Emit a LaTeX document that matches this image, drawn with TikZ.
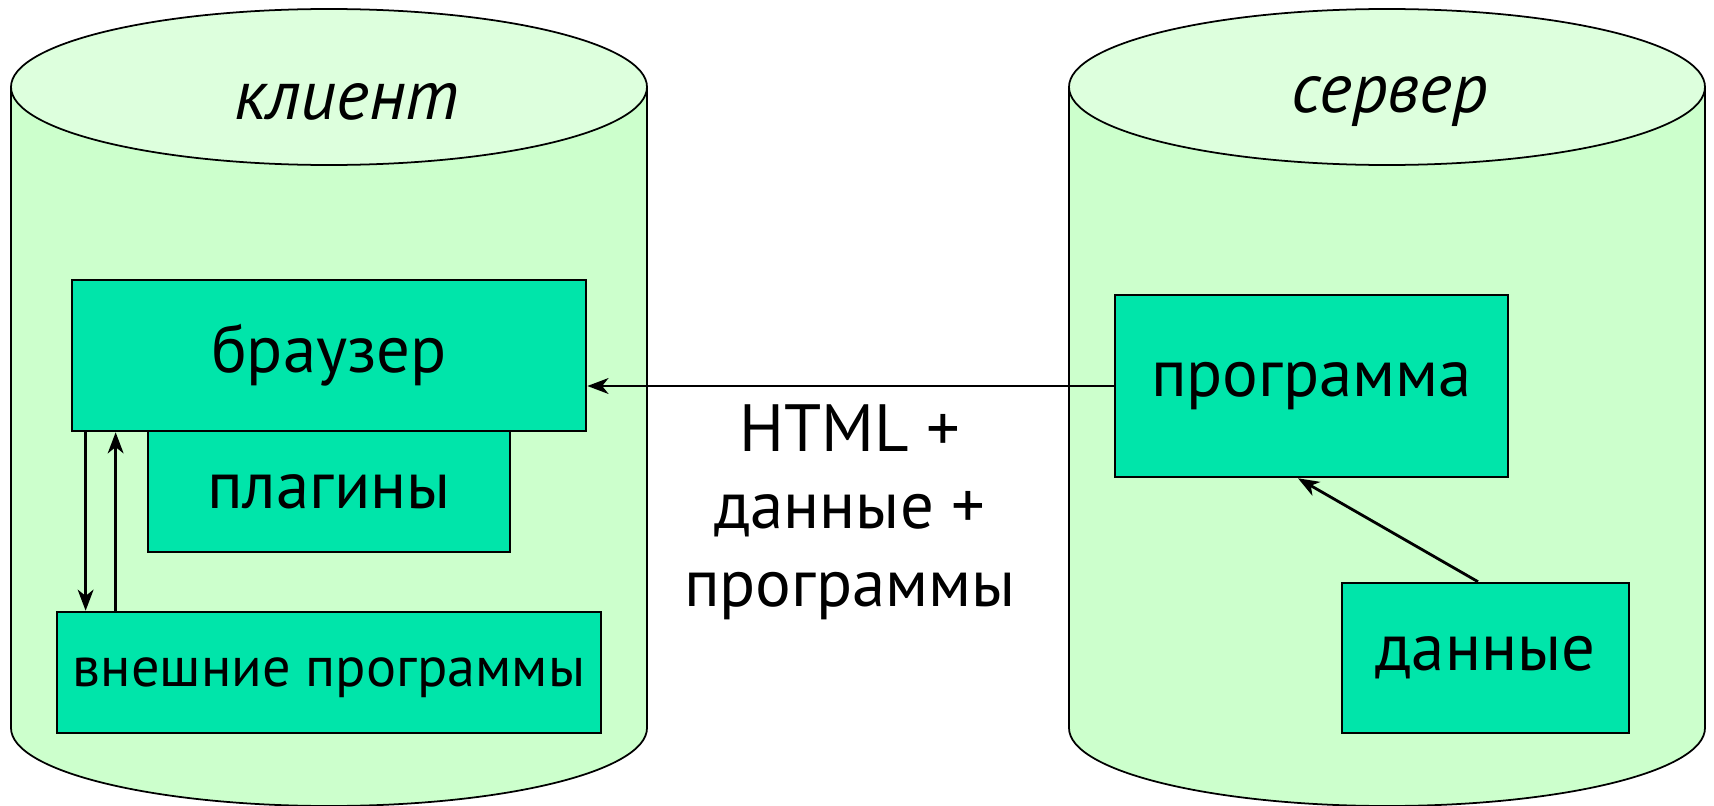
\documentclass[tikz,border=0pt]{standalone}
\usepackage{fontspec}
\setmainfont{PT Sans}
\usepackage{tikz}
\usetikzlibrary{shapes}
\usetikzlibrary{arrows.meta}
\tikzset{>={Stealth[length=6pt,width=4.5pt,inset=1.8pt]}}
\definecolor{cylside}{HTML}{CCFFCC}
\definecolor{cyltop}{HTML}{DDFFDD}
\definecolor{boxfill}{HTML}{00E5AA}
\tikzset{
	box/.style={draw, fill=boxfill, line width=0.7pt, inner sep=0pt},
	cyl/.style={draw, line width=0.5pt},
	bigtext/.style={font=\fontsize{19}{22}\selectfont},
	link/.style={->, line width=0.8pt},
}

\begin{document}
\begin{tikzpicture}[x=0.01cm, y=0.01cm]
	  \useasboundingbox (0,0) rectangle (1714,-806);
	  % client
	  \filldraw[cyl, fill=cylside] (11,-87) -- (11,-728) arc[start angle=180, end angle=360, x radius=318, y radius=78] -- (647,-87) -- cycle;
	  \filldraw[cyl, fill=cyltop] (329,-87) ellipse[x radius=318, y radius=78];
	  \node (client) at (347,-102) [font=\fontsize{20}{24}\selectfont\itshape] {клиент};
	  % server
	  \filldraw[cyl, fill=cylside] (1069,-87) -- (1069,-728) arc[start angle=180, end angle=360, x radius=318, y radius=78] -- (1705,-87) -- cycle;
	  \filldraw[cyl, fill=cyltop] (1387,-87) ellipse[x radius=318, y radius=78];
	  \node (server) at (1390,-102) [font=\fontsize{20}{24}\selectfont\itshape] {сервер};

	  \node (plugins) at (329,-491.5) [box, bigtext, minimum width=3.62cm, minimum height=1.21cm] {плагины};
	  \node (browser) at (329,-355.5) [box, bigtext, minimum width=5.14cm, minimum height=1.51cm] {браузер};
	  \node (extprog) at (329,-672.5) [box, font=\fontsize{16}{19}\selectfont, minimum width=5.44cm, minimum height=1.21cm, text depth=0pt] {внешние программы};
	  \node (program) at (1311.5,-386) [box, bigtext, minimum width=3.93cm, minimum height=1.82cm] {программа};
	  \node (data) at (1485.5,-658) [box, bigtext, minimum width=2.87cm, minimum height=1.50cm] {данные};
	  \node (payload) at (850,-512) [bigtext, align=center] {HTML +\\данные +\\программы};

	  \draw[link] (program.west) -- (program.west -| browser.east);
	  \draw[link] ([xshift=1.5mm]browser.south west) -- ([xshift=1.5mm]browser.south west |- extprog.north);
	  \draw[link] ([xshift=4.5mm]browser.south west |- extprog.north) -- ([xshift=4.5mm]browser.south west);
	  \draw[link] ([xshift=-0.75mm]data.north) -- ([xshift=-1.35mm]program.south);
\end{tikzpicture}
\end{document}
